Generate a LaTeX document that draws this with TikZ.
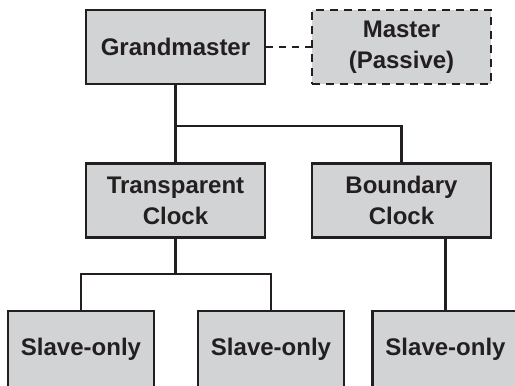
\documentclass[tikz,border=0pt]{standalone}
\usepackage{fontspec}
\setmainfont{Liberation Sans}
\usepackage{xcolor}
\definecolor{boxgray}{RGB}{209,211,212}
\definecolor{inkgray}{RGB}{35,31,32}

\begin{document}
\begin{tikzpicture}[x=1pt, y=-1pt,
    clockbox/.style = {rectangle, draw = inkgray, fill = boxgray, line width = 2.8pt, minimum width = 179pt, minimum height = 74pt, align = center, inner sep = 0pt, font = \fontsize{24}{31}\selectfont\bfseries, text = inkgray},
    slavebox/.style = {clockbox, minimum width = 146pt, minimum height = 76pt},
    link/.style = {draw = inkgray, line width = 2.3pt}]
        \clip (0, 0) rectangle (515, 386);
        \node (gm) at (175.5, 47) [clockbox] {Grandmaster};
        \node (mp) at (401.5, 47) [clockbox, dash pattern = on 8pt off 6pt] {Master\\(Passive)};
        \node (tc) at (175.5, 200.5) [clockbox] {Transparent\\Clock};
        \node (bc) at (401.5, 200.5) [clockbox] {Boundary\\Clock};
        \node (s1) at (81, 349) [slavebox] {Slave-only};
        \node (s2) at (271, 349) [slavebox] {Slave-only};
        \node (s3) at (445.5, 349) [slavebox] {Slave-only};
        \coordinate (j1) at (175.5, 126);
        \coordinate (j2) at (175.5, 274);
        \draw [link, dash pattern = on 7pt off 6pt] (gm) edge (mp);
        \draw [link] (gm) edge (tc);
        \draw [link] (j1) -| (bc);
        \draw [link] (tc) edge (j2);
        \draw [link] (j2) -| (s1);
        \draw [link] (j2) -| (s2);
        \draw [link] (s3.north) -- (s3.north |- bc.south);
    \end{tikzpicture}
\end{document}
